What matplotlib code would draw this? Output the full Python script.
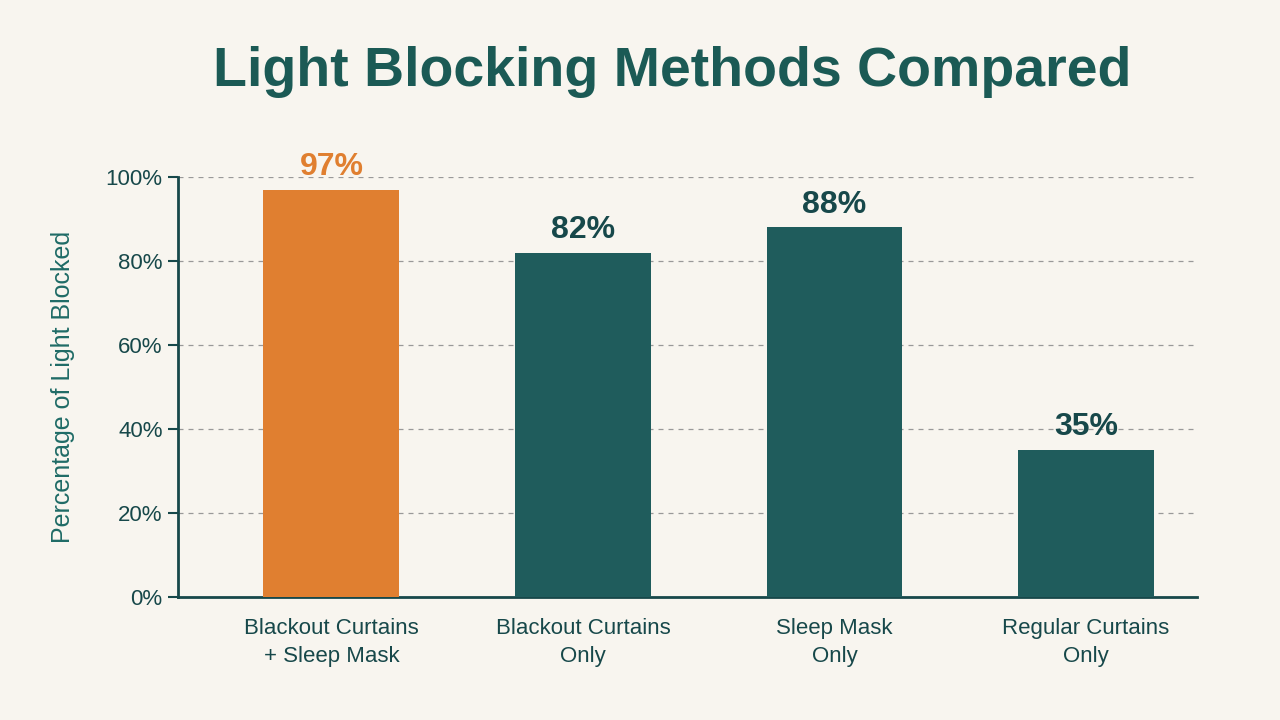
import matplotlib.pyplot as plt

categories = ["Blackout Curtains\n+ Sleep Mask", "Blackout Curtains\nOnly",
              "Sleep Mask\nOnly", "Regular Curtains\nOnly"]
values = [97, 82, 88, 35]
yticks = [0, 20, 40, 60, 80, 100]

BG = "#f8f5ef"
TEAL = "#1f5c5c"
DARK = "#17484a"
ORANGE = "#e07f30"

plt.rcParams["font.family"] = ["Liberation Sans", "DejaVu Sans"]

fig = plt.figure(figsize=(12.8, 7.2), dpi=100, facecolor=BG)
ax = fig.add_axes([0.139, 0.171, 0.796, 0.583], facecolor=BG)

colors = [ORANGE] + [TEAL] * (len(values) - 1)
x = range(len(values))
ax.bar(x, values, width=0.54, color=colors, zorder=3)

for i, v in enumerate(values):
    ax.text(i, v + 1.8, f"{v}%", ha="center", va="bottom", fontsize=23,
            fontweight="bold", color=ORANGE if i == 0 else DARK, clip_on=False)

ax.set_xlim(-0.61, 3.44)
ax.set_ylim(0, 100)
ax.set_yticks(yticks)
ax.set_yticklabels([f"{t}%" for t in yticks], fontsize=16, color=DARK)
ax.set_xticks(list(x))
ax.set_xticklabels(categories, fontsize=16, color=DARK, linespacing=1.45)
ax.tick_params(axis="x", length=0, pad=15)
ax.tick_params(axis="y", length=7, width=1.5, color=DARK, pad=4)

ax.grid(axis="y", linestyle=(0, (4, 4)), color="#999999", lw=0.9, zorder=0)
for s in ["top", "right"]:
    ax.spines[s].set_visible(False)
for s in ["left", "bottom"]:
    ax.spines[s].set_color(DARK)
    ax.spines[s].set_linewidth(2)

ax.set_ylabel("Percentage of Light Blocked", fontsize=18, color="#1f6b66", labelpad=22)

fig.text(0.525, 0.9, "Light Blocking Methods Compared", ha="center", va="center",
         fontsize=40, fontweight="bold", color="#1b5a55")

fig.savefig("out.png", dpi=100, facecolor=BG)
